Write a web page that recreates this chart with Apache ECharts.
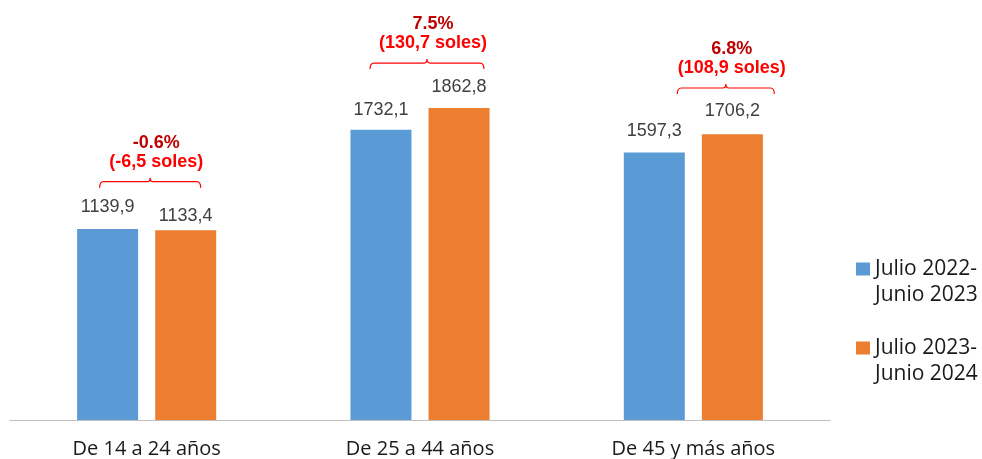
<!DOCTYPE html>
<html>
<head>
<meta charset="utf-8">
<script src="https://cdn.jsdelivr.net/npm/echarts@6/dist/echarts.min.js"></script>
<style>
html,body{margin:0;padding:0;background:#fff;}
#chart{width:982px;height:459px;}
</style>
</head>
<body>
<div id="chart"></div>
<script>
// ---- data ----
var categories = ['De 14 a 24 años', 'De 25 a 44 años', 'De 45 y más años'];
var seriesNames = ['Julio 2022-\nJunio 2023', 'Julio 2023-\nJunio 2024'];
var values2023 = [1139.9, 1732.1, 1597.3];
var values2024 = [1133.4, 1862.8, 1706.2];
var pctLabels = ['-0.6%', '7.5%', '6.8%'];
var solesLabels = ['(-6,5 soles)', '(130,7 soles)', '(108,9 soles)'];
var bracketLevels = [1423, 2131, 1982];

// ---- layout / style ----
var labelDist2023 = [11, 9, 10];
var labelDist2024 = [3, 10, 12];
var bracketSpan = [[-47, 54], [-50, 64], [-16, 81]];

function fmt(v) { return v.toFixed(1).replace('.', ','); }

function barData(vals, dists) {
  return vals.map(function (v, i) {
    return { value: v, label: { distance: dists[i] } };
  });
}

var bracketData = bracketLevels.map(function (v, i) { return [i, v]; });

var labelStyle = {
  show: true,
  position: 'top',
  color: '#404040',
  fontFamily: '"Liberation Sans", Arial, sans-serif',
  fontSize: 18,
  lineHeight: 22,
  formatter: function (p) { return fmt(p.value); }
};

var chart = echarts.init(document.getElementById('chart'), null, { renderer: 'canvas' });
chart.setOption({
  animation: false,
  backgroundColor: '#ffffff',
  grid: { left: 10, right: 152, top: 18, bottom: 38 },
  legend: {
    data: seriesNames,
    orient: 'vertical',
    left: 856,
    top: 230,
    padding: 0,
    itemWidth: 14,
    itemHeight: 13,
    itemGap: 1,
    icon: 'rect',
    formatter: function (name) { return '\n' + name; },
    textStyle: {
      fontFamily: '"Open Sans", "Noto Sans", sans-serif',
      fontSize: 21,
      lineHeight: 26,
      color: '#1a1a1a'
    }
  },
  xAxis: {
    type: 'category',
    data: categories,
    axisLine: { lineStyle: { color: '#BFBFBF', width: 1 } },
    axisTick: { show: false },
    axisLabel: {
      margin: 19,
      color: '#1a1a1a',
      fontFamily: '"Open Sans", "Noto Sans", sans-serif',
      fontSize: 20
    }
  },
  yAxis: {
    type: 'value',
    min: 0,
    max: 2400,
    show: false,
    splitLine: { show: false }
  },
  series: [
    {
      name: seriesNames[0],
      type: 'bar',
      data: barData(values2023, labelDist2023),
      barWidth: 61,
      barGap: '28%',
      itemStyle: { color: '#5B9BD5' },
      label: labelStyle
    },
    {
      name: seriesNames[1],
      type: 'bar',
      data: barData(values2024, labelDist2024),
      barWidth: 61,
      barGap: '28%',
      itemStyle: { color: '#ED7D31' },
      label: labelStyle
    },
    {
      name: 'annot',
      type: 'custom',
      data: bracketData,
      encode: { x: 0, y: 1 },
      z: 5,
      renderItem: function (params, api) {
        var i = api.value(0);
        var pt = api.coord([i, api.value(1)]);
        var cx = pt[0], y = pt[1];
        var span = bracketSpan[i];
        var x1 = cx + span[0], x2 = cx + span[1];
        var xm = (x1 + x2) / 2;
        var d = 'M' + x1 + ',' + (y + 6) +
          ' Q' + x1 + ',' + y + ' ' + (x1 + 4) + ',' + y +
          ' L' + (xm - 3) + ',' + y +
          ' Q' + xm + ',' + y + ' ' + xm + ',' + (y - 4) +
          ' Q' + xm + ',' + y + ' ' + (xm + 3) + ',' + y +
          ' L' + (x2 - 4) + ',' + y +
          ' Q' + x2 + ',' + y + ' ' + x2 + ',' + (y + 6);
        var tx = xm + 6;
        return {
          type: 'group',
          children: [
            {
              type: 'path',
              shape: { pathData: d },
              style: { fill: null, stroke: '#FF0000', lineWidth: 1.2 }
            },
            {
              type: 'text',
              x: tx, y: y - 39,
              style: {
                text: pctLabels[i],
                align: 'center', verticalAlign: 'middle',
                fill: '#C00000',
                font: 'bold 18px "Liberation Sans", Arial, sans-serif'
              }
            },
            {
              type: 'text',
              x: tx, y: y - 20,
              style: {
                text: solesLabels[i],
                align: 'center', verticalAlign: 'middle',
                fill: '#FF0000',
                font: 'bold 18px "Liberation Sans", Arial, sans-serif'
              }
            }
          ]
        };
      }
    }
  ]
});
</script>
</body>
</html>
